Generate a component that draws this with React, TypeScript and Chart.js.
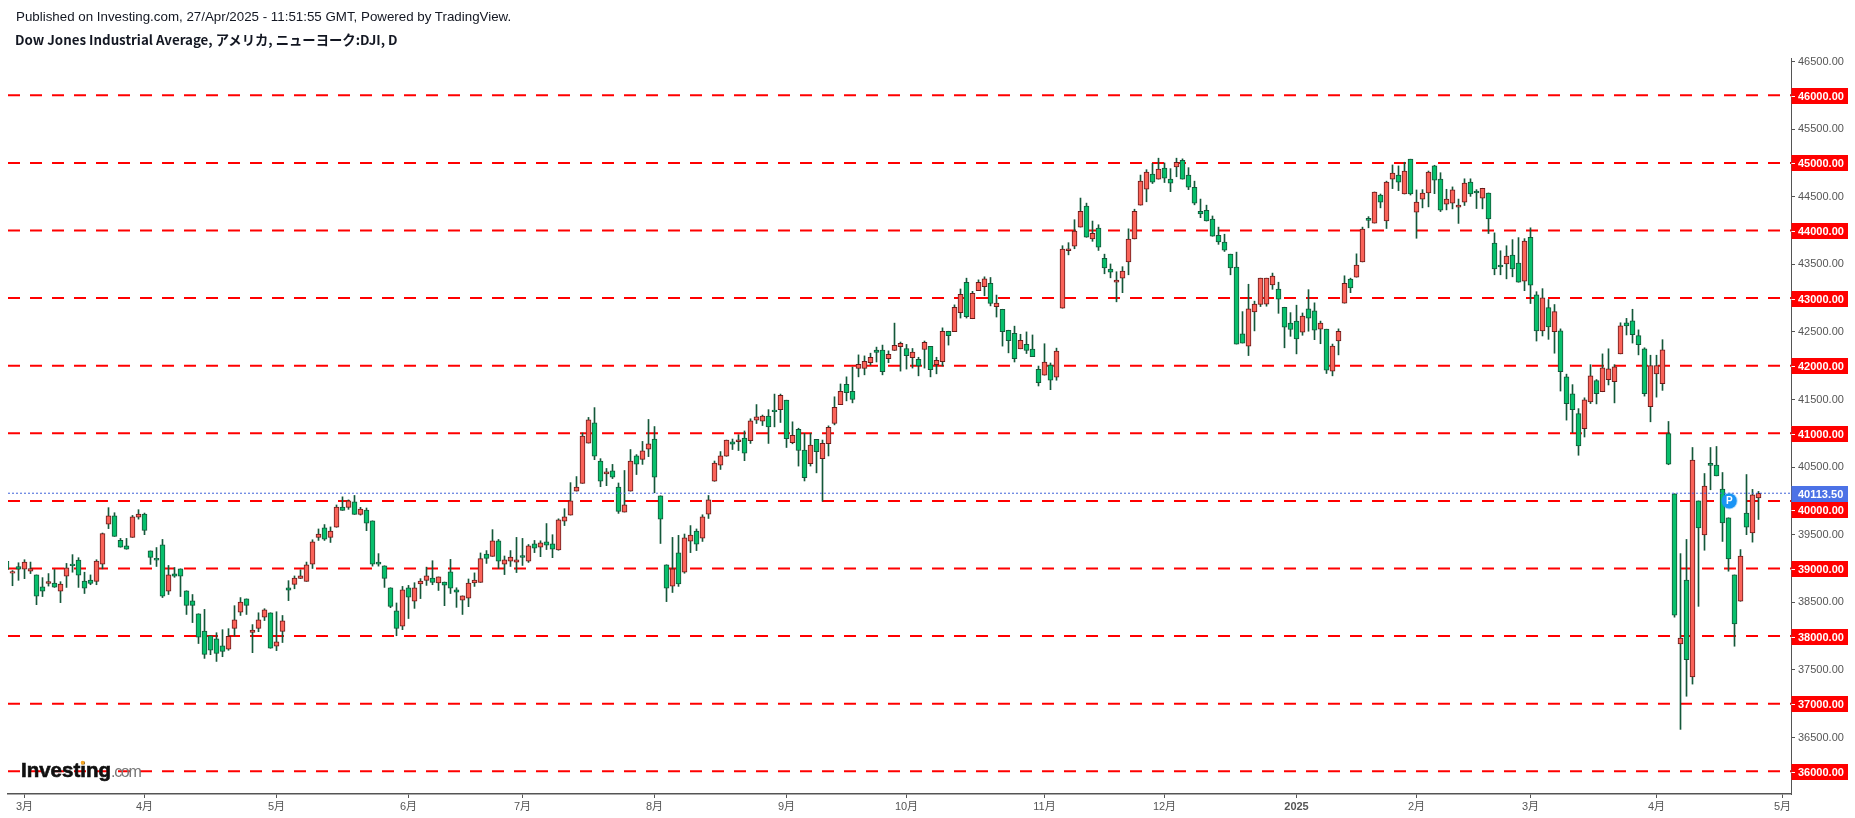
import React, { useEffect, useRef } from "react";
import { Chart, registerables } from "chart.js";

Chart.register(...registerables);

const headerLine = "Published on Investing.com, 27/Apr/2025 - 11:51:55 GMT, Powered by TradingView.";
const symbolLine = "Dow Jones Industrial Average, アメリカ, ニューヨーク:DJI, D";

const opens = [39105,
38930,39030,38990,38960,38905,38730,38780,38785,38665,38885,
39065,39125,38815,38830,38810,39065,39655,39780,39415,39335,
39460,39760,39805,39260,39150,39350,38665,38920,38995,38670,
38520,38330,38075,38005,37960,37855,37805,38115,38355,38550,
38055,38115,38280,38345,37850,38070,38715,38765,38855,38810,
39065,39460,39600,39460,39610,39910,39905,39985,39800,39865,
39705,39095,39040,38715,38375,38145,38715,38515,38770,38825,
38860,38785,38800,38950,38685,38530,38560,38785,38795,39215,
39180,39410,39065,39110,39095,39190,39110,39365,39315,39395,
39365,39275,39700,39790,40145,40260,40855,41155,40590,40400,
40445,40205,39835,40145,40665,40615,40765,40915,40075,39055,
38740,39230,38945,39405,39555,39450,39805,40290,40530,40660,
40875,40875,40930,40890,41195,41180,41255,41345,41350,41490,
40860,41060,40750,40550,40910,40625,40845,41145,41425,41725,
41620,41960,41960,42045,42230,42230,42105,42225,42280,42255,
42120,42095,42240,42285,42015,42060,42510,42505,42785,43235,
42695,43110,43170,43220,42875,42835,42525,42480,42250,42315,
42245,41945,41860,42010,41830,42850,43700,43770,44050,44360,
43875,44035,43590,43430,43235,43295,43535,43875,44375,44610,
44835,44760,44925,44760,44940,45040,44820,44640,44285,44300,
44170,43930,43830,43650,43460,42470,42290,42795,42905,42910,
43195,43135,42865,42630,42660,42495,42840,42810,42540,42540,
41920,42365,42925,43280,43310,43535,44180,44110,44525,44140,
44760,44820,44540,45055,44270,44465,44555,44955,44760,44390,
44405,44345,44420,44715,44585,44480,44555,43815,43490,43505,
43635,43520,43250,43900,43050,42515,42860,42505,42515,41835,
41585,41290,41070,41465,41780,41615,41795,41765,42175,42635,
42665,42445,42250,41395,41880,41735,40995,40105,37885,38830,
37395,40000,39495,40555,40530,40175,39750,38905,38515,39820,
39525,40045];

const closes = [38985,
38955,38990,39095,39000,38590,38665,38805,38725,38770,39010,
39040,38900,38710,38780,39110,39515,39780,39475,39315,39285,
39765,39805,39565,39165,39125,38590,38905,38885,38885,38455,
38455,37985,37730,37790,37745,37775,37995,38240,38505,38455,
38090,38240,38390,37820,37915,38225,38680,38860,38890,39055,
39395,39510,39435,39555,39910,39860,40000,39800,39880,39670,
39065,39065,38855,38440,38115,38685,38575,38715,38815,38890,
38795,38875,38755,38710,38650,38595,38785,38830,39145,39150,
39410,39110,39130,39170,39130,39165,39335,39300,39380,39345,
39285,39720,39765,40000,40205,40960,41200,40660,40290,40430,
40350,39845,39940,40590,40545,40740,40845,40350,39730,38710,
38995,38770,39455,39495,39360,39765,40015,40560,40665,40900,
40840,40905,40705,41185,41245,41255,41095,41320,41560,40920,
40970,40745,40345,40825,40730,40850,41090,41385,41620,41600,
41500,42020,42065,42125,42195,41910,42170,42300,42330,42150,
42200,41995,42345,41940,42080,42510,42445,42865,43055,42725,
43070,43235,43285,42920,42925,42505,42370,42105,42375,42225,
42135,41750,42055,41785,42215,43725,43730,43990,44285,43900,
43960,43755,43445,43385,43265,43400,43875,44285,44730,44865,
44715,44910,44775,44700,45010,44760,44640,44405,44245,44140,
43915,43830,43710,43445,42320,42335,42840,42910,43295,43295,
43325,42985,42570,42535,42395,42735,42705,42525,42630,41935,
42290,42510,43220,43150,43490,44020,44150,44570,44420,44715,
44850,44715,44880,44540,44420,44555,44865,44745,44300,44465,
44600,44375,44700,44540,44555,44625,44170,43430,43460,43620,
43430,43235,43845,43190,42515,43005,42575,42800,41910,41440,
41350,40815,41495,41850,41585,41970,41955,41985,42590,42590,
42460,42310,41585,42000,42000,42235,40545,38310,37970,37650,
40605,39600,40220,40525,40370,39675,39140,38180,39185,39610,
40090,40113.5];

const highs = [39105,
38970,39085,39130,39095,38905,38865,38925,38985,38805,39075,
39205,39160,38945,38905,39130,39525,39900,39825,39445,39445,
39785,39870,39820,39260,39310,39430,39045,39015,38995,38670,
38615,38330,38395,38005,38050,38095,38110,38450,38570,38550,
38170,38345,38405,38345,38360,38305,38820,38890,38980,39095,
39425,39585,39650,39615,39940,40060,40015,40080,39905,39895,
39705,39220,39040,38715,38490,38735,38750,38790,38850,39020,
39115,38875,38800,39135,38715,38595,38845,38935,39230,39265,
39575,39430,39185,39265,39460,39445,39355,39415,39410,39665,
39500,39735,39885,40270,40360,41005,41235,41380,40625,40480,
40540,40265,40450,40760,40685,40880,41205,41100,40075,39055,
39460,39490,39510,39635,39585,39795,40080,40590,40730,40900,
40915,40980,41035,41215,41425,41270,41350,41580,41580,41490,
41170,41075,41000,41000,40910,40900,41110,41540,41730,41835,
41980,42160,42145,42185,42275,42305,42220,42630,42350,42315,
42255,42125,42365,42285,42125,42560,42510,42900,43135,43295,
43100,43270,43315,43305,43045,42835,42525,42585,42465,42500,
42455,41995,42325,42040,42260,43775,43820,44160,44480,44405,
44140,44085,43650,43505,43390,43465,44025,44315,44820,44900,
44995,45070,45000,44915,45070,45060,44930,44730,44465,44375,
44215,44050,43945,43650,43680,42800,43205,42955,43295,43295,
43370,43235,42865,42785,42895,42780,43125,42930,42660,42540,
42320,42545,43330,43295,43655,44050,44205,44570,44540,44730,
44970,44955,45010,45055,44600,44605,44880,44965,44855,44610,
44645,44465,44765,44765,44605,44625,44555,43965,43700,43775,
43865,43895,43880,44040,43095,43140,42980,42905,42545,41875,
41720,41365,41525,42015,41795,42175,42250,42015,42635,42700,
42835,42530,42265,42155,42155,42385,41175,40105,39220,39430,
40790,40000,40405,40790,40805,40420,39750,38905,39280,40390,
40170,40140];

const lows = [38985,
38745,38825,38850,38925,38465,38585,38740,38720,38495,38720,
38945,38720,38630,38760,38760,38995,39590,39475,39315,39285,
39460,39730,39500,39060,39030,38570,38615,38870,38585,38320,
38200,37890,37670,37725,37625,37695,37790,38000,38305,38320,
37755,38065,38230,37820,37785,37905,38525,38700,38850,38810,
39000,39415,39415,39385,39610,39860,39875,39800,39790,39560,
39035,39035,38720,38420,38005,38095,38260,38410,38555,38750,
38760,38675,38450,38630,38425,38320,38435,38735,38795,39075,
39180,39000,38910,39030,38940,39045,39090,39235,39175,39280,
39160,39270,39635,39790,40145,40260,40855,40610,40210,40225,
40330,39815,39835,40145,40390,40540,40655,40120,39370,38510,
38645,38735,38930,39235,39265,39400,39740,40290,40465,40660,
40760,40745,40595,40850,41145,41115,40850,41095,41160,40790,
40845,40515,40295,40515,40415,39995,40665,41125,41425,41480,
41450,41835,41865,42010,42055,41865,42045,42225,41920,41950,
41965,41850,41965,41835,41880,41995,42305,42505,42705,42705,
42695,43110,43035,42885,42720,42290,42190,42055,42250,42180,
42135,41700,41860,41645,41785,42850,43640,43730,44050,43900,
43840,43705,43360,43300,42945,43080,43345,43875,44375,44425,
44695,44760,44710,44575,44795,44760,44605,44380,44190,44140,
43915,43795,43690,43345,42320,42335,42150,42515,42875,42880,
43130,42775,42265,42435,42175,42450,42510,42385,42325,41885,
41850,42160,42925,43080,43310,43535,44040,44110,44335,44030,
44620,44590,44540,44525,43885,44335,44350,44545,44280,44305,
44320,44105,44370,44505,44325,44320,43955,43345,43345,43285,
43315,43235,43110,42920,42365,42440,42390,42185,41625,41195,
41010,40675,40945,41440,41435,41615,41715,41450,42175,42455,
42335,42160,41550,41170,41535,41635,40535,38280,36620,37110,
37290,38440,39270,40165,40370,39400,38960,37850,38515,39500,
39390,39725];

const firstIndex = -1;
const redLevels = [36000, 37000, 38000, 39000, 40000, 41000, 42000, 43000, 44000, 45000, 46000];
const yTicks = [36000,36500,37000,37500,38000,38500,39000,39500,40000,40500,41000,41500,42000,42500,43000,43500,44000,44500,45000,45500,46000,46500];
const lastPrice = 40113.5;
const monthTickIndex = [2, 22, 44, 66, 85, 107, 129, 149, 172, 192, 214, 234, 253, 274, 295];
const monthLabels = ["3月","4月","5月","6月","7月","8月","9月","10月","11月","12月","2025","2月","3月","4月","5月"];
const markerIndex = 286.13;
const markerPrice = 40000;

const X_MIN = -0.75;
const X_MAX = 296.4167;
const Y_MIN = 35664;
const Y_MAX = 46552;

const FONT = '"Liberation Sans", "Noto Sans CJK JP", sans-serif';
const UP_FILL = "#fa6359";
const UP_EDGE = "#6b1b1b";
const DOWN_FILL = "#08bf6c";
const DOWN_EDGE = "#14583a";
const WICK = "#14583a";

const overlay = {
  id: "overlay",
  afterDatasetsDraw(chart: any) {
    const { ctx, scales } = chart;
    ctx.save();
    // watermark
    ctx.textBaseline = "alphabetic";
    ctx.textAlign = "left";
    ctx.fillStyle = "#101010";
    ctx.strokeStyle = "#101010";
    ctx.lineWidth = 0.6;
    ctx.font = "bold 20.5px " + FONT;
    ctx.fillText("Investing", 21, 777);
    ctx.strokeText("Investing", 21, 777);
    ctx.fillStyle = "#777777";
    ctx.font = "16px " + FONT;
    (ctx as any).letterSpacing = "-1.3px";
    ctx.fillText(".com", 111, 777);
    (ctx as any).letterSpacing = "0px";
    ctx.fillStyle = "#f5a623";
    ctx.beginPath();
    ctx.arc(82.7, 762.7, 2, 0, Math.PI * 2);
    ctx.fill();
    // publication marker
    const mx = scales.x.getPixelForValue(markerIndex);
    const my = scales.y.getPixelForValue(markerPrice);
    ctx.fillStyle = "rgba(26,148,245,0.3)";
    ctx.beginPath();
    ctx.arc(mx, my, 8.5, 0, Math.PI * 2);
    ctx.fill();
    ctx.fillStyle = "#1a94f5";
    ctx.beginPath();
    ctx.arc(mx, my, 7.5, 0, Math.PI * 2);
    ctx.fill();
    ctx.fillStyle = "#ffffff";
    ctx.font = "bold 10px " + FONT;
    ctx.textAlign = "center";
    ctx.textBaseline = "middle";
    ctx.fillText("P", mx, my + 0.5);
    ctx.restore();
  },
  afterDraw(chart: any) {
    const { ctx, scales } = chart;
    const left = chart.chartArea.right + 0.5;
    const boxW = 56.5;
    const lastY = Math.ceil(scales.y.getPixelForValue(lastPrice));
    ctx.save();
    ctx.font = "bold 11px " + FONT;
    ctx.textAlign = "left";
    ctx.textBaseline = "middle";
    for (const level of redLevels) {
      let cy = Math.ceil(scales.y.getPixelForValue(level));
      if (Math.abs(cy - lastY) < 16) cy = lastY + 16;
      ctx.fillStyle = "#ff0000";
      ctx.fillRect(left, cy - 8, boxW, 16);
      ctx.fillStyle = "#ffffff";
      ctx.fillRect(left, cy, 3.5, 1);
      ctx.fillText(level.toFixed(2), 1798, cy + 0.5);
    }
    ctx.fillStyle = "#4c72e6";
    ctx.fillRect(left, lastY - 8, boxW, 16);
    ctx.fillStyle = "#ffffff";
    ctx.fillText(lastPrice.toFixed(2), 1798, lastY + 0.5);
    ctx.restore();
  },
};

export default function App() {
  const ref = useRef<HTMLCanvasElement>(null);
  useEffect(() => {
    if (!ref.current) return;
    const indices = opens.map((_, i) => i + firstIndex);
    const isUp = opens.map((o, i) => closes[i] >= o);
    const levelLine = (level: number, color: string, width: number, dash: number[], order: number) => ({
      type: "line",
      order,
      data: [{ x: X_MIN, y: level }, { x: X_MAX, y: level }],
      borderColor: color,
      borderWidth: width,
      borderDash: dash,
      pointRadius: 0,
      fill: false,
    });
    const chart = new Chart(ref.current, {
      data: {
        datasets: [
          ...redLevels.map((l) => levelLine(l, "#ff0000", 2, [12, 10], 3)),
          levelLine(lastPrice, "#3f63d9", 1, [2, 2], 0),
          {
            type: "bar",
            order: 2,
            grouped: false,
            barThickness: 1,
            data: indices.map((x, i) => ({ x, y: [lows[i], highs[i]] })),
            backgroundColor: WICK,
            borderWidth: 0,
          },
          {
            type: "bar",
            order: 1,
            grouped: false,
            barThickness: 5,
            data: indices.map((x, i) => ({ x, y: [opens[i], closes[i]] })),
            backgroundColor: isUp.map((u) => (u ? UP_FILL : DOWN_FILL)),
            borderColor: isUp.map((u) => (u ? UP_EDGE : DOWN_EDGE)),
            borderWidth: 1,
            borderSkipped: false,
          },
        ],
      } as any,
      options: {
        responsive: false,
        animation: false,
        events: [],
        layout: { padding: { top: 58, left: 8, right: 0, bottom: 0 } },
        plugins: { legend: { display: false }, tooltip: { enabled: false }, title: { display: false } },
        scales: {
          x: {
            type: "linear",
            min: X_MIN,
            max: X_MAX,
            offset: false,
            afterFit: (s: any) => { s.height = 24; },
            afterBuildTicks: (s: any) => { s.ticks = monthTickIndex.map((value) => ({ value })); },
            grid: { offset: false, drawOnChartArea: false, drawTicks: true, tickLength: 4, color: "#555555" },
            border: { color: "#555555", width: 1.5 },
            ticks: {
              autoSkip: false,
              maxRotation: 0,
              padding: 2,
              color: "#555555",
              font: (c: any) => ({ family: FONT, size: 11, weight: c.index === 10 ? "bold" : "normal" }),
              callback: (_v: any, i: number) => monthLabels[i],
            },
          },
          y: {
            type: "linear",
            position: "right",
            min: Y_MIN,
            max: Y_MAX,
            afterFit: (s: any) => { s.width = 64; },
            afterBuildTicks: (s: any) => { s.ticks = yTicks.map((value) => ({ value })); },
            grid: { offset: false, drawOnChartArea: false, drawTicks: true, tickLength: 4, color: "#555555" },
            border: { color: "#555555", width: 1 },
            ticks: {
              autoSkip: false,
              padding: 3,
              color: "#555555",
              font: { family: FONT, size: 11 },
              callback: (v: any) => (redLevels.includes(Number(v)) ? "" : Number(v).toFixed(2)),
            },
          },
        },
      } as any,
      plugins: [overlay],
    } as any);
    return () => chart.destroy();
  }, []);
  return (
    <div style={{ position: "absolute", left: 0, top: 0, width: 1855, height: 818, background: "#fff", overflow: "hidden" }}>
      <canvas ref={ref} width={1855} height={818} style={{ position: "absolute", left: 0, top: 0, display: "block" }} />
      <div style={{ position: "absolute", left: 16, top: 9, font: `13.33px ${FONT}`, color: "#131722", whiteSpace: "nowrap", lineHeight: "16px" }}>{headerLine}</div>
      <div style={{ position: "absolute", left: 15, top: 32, font: `bold 13.33px "Noto Sans CJK JP", sans-serif`, color: "#131722", whiteSpace: "nowrap", lineHeight: "16px" }}>{symbolLine}</div>
    </div>
  );
}
